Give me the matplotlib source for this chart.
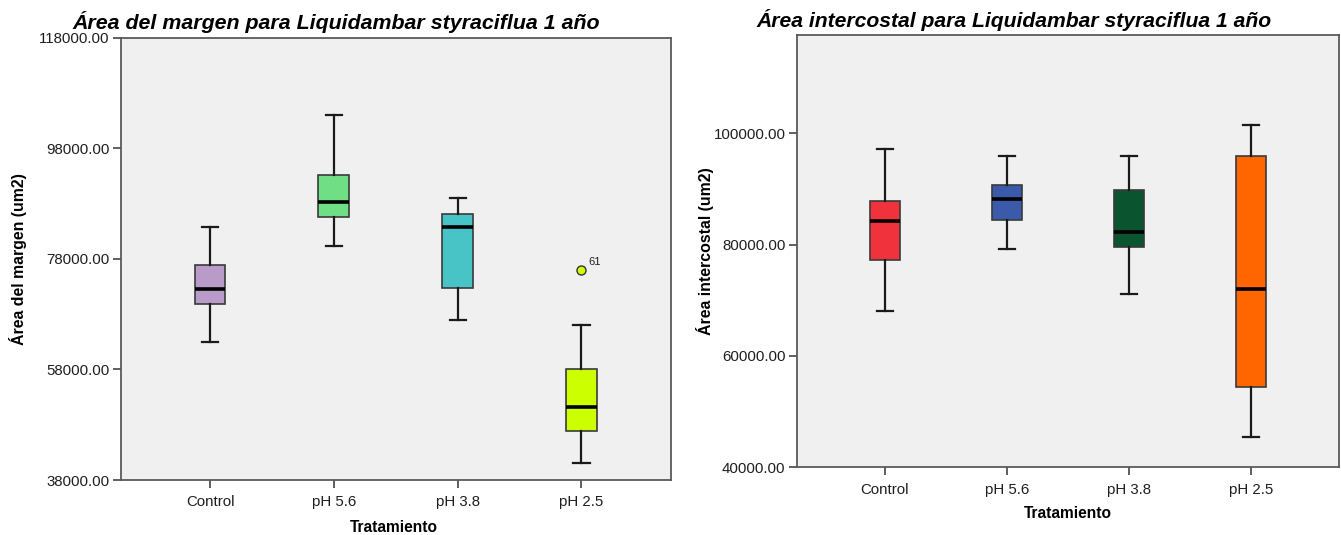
import matplotlib
matplotlib.use("Agg")
import matplotlib.pyplot as plt

plt.rcParams['font.family'] = ['Liberation Sans', 'DejaVu Sans']

categories = ["Control", "pH 5.6", "pH 3.8", "pH 2.5"]

# Left chart: Área del margen (um2)
margen_whislo = [63000, 80400, 67000, 41000]
margen_q1 = [69800, 85500, 72700, 46900]
margen_med = [72500, 88300, 83700, 51200]
margen_q3 = [76900, 93100, 86200, 58100]
margen_whishi = [83800, 104000, 89000, 66000]
margen_fliers = [[], [], [], [75900]]
margen_flier_ids = [[], [], [], ["61"]]
margen_colors = ["#B99BC9", "#70DE84", "#48C4C6", "#CCFF00"]
margen_yticks = [38000, 58000, 78000, 98000, 118000]

# Right chart: Área intercostal (um2)
inter_whislo = [68000, 79300, 71100, 45400]
inter_q1 = [77300, 84400, 79600, 54400]
inter_med = [84300, 88200, 82300, 72000]
inter_q3 = [87800, 90700, 89900, 96000]
inter_whishi = [97200, 96000, 96000, 101500]
inter_colors = ["#F0323C", "#3C5AAA", "#0A5530", "#FF6600"]
inter_yticks = [40000, 60000, 80000, 100000]

W, H = 1341, 535
fig = plt.figure(figsize=(W / 100, H / 100), dpi=100)

def px_axes(x0, x1, ytop, ybot):
    return fig.add_axes([x0 / W, (H - ybot) / H, (x1 - x0) / W, (ybot - ytop) / H])

def draw(ax, lo, q1, med, q3, hi, fliers, colors, yticks, ylim):
    stats = []
    for i in range(len(categories)):
        stats.append(dict(whislo=lo[i], q1=q1[i], med=med[i], q3=q3[i],
                          whishi=hi[i], fliers=fliers[i], label=categories[i]))
    pos = list(range(1, len(categories) + 1))
    res = ax.bxp(stats, positions=pos, widths=0.25, patch_artist=True,
                 showfliers=True, capwidths=0.13,
                 boxprops=dict(edgecolor="#3a3a3a", linewidth=1.2),
                 medianprops=dict(color="black", linewidth=2.6),
                 whiskerprops=dict(color="#1a1a1a", linewidth=1.6),
                 capprops=dict(color="#1a1a1a", linewidth=1.6))
    for patch, c in zip(res["boxes"], colors):
        patch.set_facecolor(c)
    for fl, c in zip(res["fliers"], colors):
        fl.set(marker="o", markerfacecolor=c, markeredgecolor="#333333",
               markersize=6.5, markeredgewidth=1.0)
    ax.set_xlim(0.277, 4.723)
    ax.set_ylim(*ylim)
    ax.set_yticks(yticks)
    ax.set_yticklabels([f"{v:.2f}" for v in yticks])
    ax.set_xticks(pos)
    ax.set_xticklabels(categories)
    ax.set_facecolor("#F0F0F0")
    for s in ax.spines.values():
        s.set_color("#5a5a5a")
        s.set_linewidth(1.3)
    ax.tick_params(axis="both", direction="out", length=6, width=1.2,
                   color="#444444", labelsize=10.8, labelcolor="#1e1e1e", pad=2)
    ax.tick_params(axis="x", pad=5)
    return res

axL = px_axes(120.5, 671, 37.7, 480)
draw(axL, margen_whislo, margen_q1, margen_med, margen_q3, margen_whishi,
     margen_fliers, margen_colors, margen_yticks, (38000, 118000))
for i, (vals, ids) in enumerate(zip(margen_fliers, margen_flier_ids)):
    for v, t in zip(vals, ids):
        axL.annotate(t, (i + 1, v), xytext=(5, 4), textcoords="offset points",
                     fontsize=8, color="#222222")

axR = px_axes(796.7, 1339, 34.5, 467.3)
draw(axR, inter_whislo, inter_q1, inter_med, inter_q3, inter_whishi,
     [[], [], [], []], inter_colors, inter_yticks, (40000, 117770))

# titles
fig.text(336 / W, 1 - 22 / H, "Área del margen para Liquidambar styraciflua 1 año",
         ha="center", va="center", fontsize=15.4, fontweight="bold", style="italic")
fig.text(1014 / W, 1 - 20 / H, "Área intercostal para Liquidambar styraciflua 1 año",
         ha="center", va="center", fontsize=15.2, fontweight="bold", style="italic")

# axis labels
fig.text(18 / W, 1 - 259 / H, "Área del margen (um2)", rotation=90,
         ha="center", va="center", fontsize=11.4, fontweight="bold")
fig.text(705 / W, 1 - 251 / H, "Área intercostal (um2)", rotation=90,
         ha="center", va="center", fontsize=11.4, fontweight="bold")
fig.text(394 / W, 1 - 527 / H, "Tratamiento", ha="center", va="center",
         fontsize=11.2, fontweight="bold")
fig.text(1068 / W, 1 - 513 / H, "Tratamiento", ha="center", va="center",
         fontsize=11.2, fontweight="bold")

fig.savefig("out.png", dpi=100, facecolor="white")
